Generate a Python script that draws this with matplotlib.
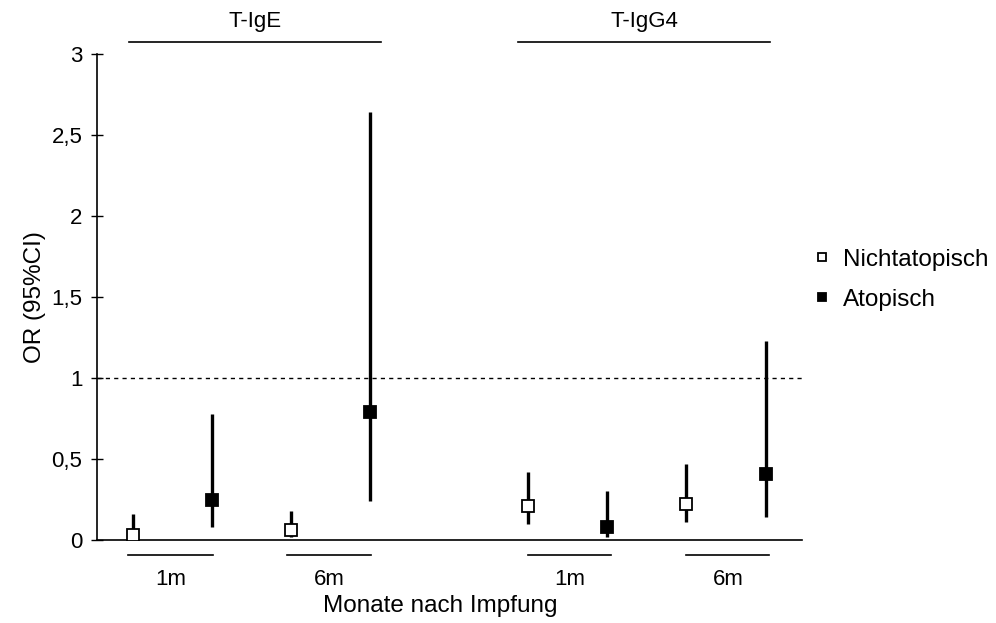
import matplotlib
matplotlib.use("Agg")
import matplotlib.pyplot as plt

plt.rcParams['font.family'] = ['Liberation Sans', 'DejaVu Sans']

# positions of the points (gap between T-IgE and T-IgG4)
x_nicht = [1, 3, 6, 8]
x_atop = [2, 4, 7, 9]

# odds ratios and 95% CI
or_nicht = [0.03, 0.06, 0.21, 0.22]
lo_nicht = [0.00, 0.02, 0.10, 0.11]
hi_nicht = [0.16, 0.18, 0.42, 0.47]

or_atop = [0.25, 0.79, 0.08, 0.41]
lo_atop = [0.08, 0.24, 0.02, 0.14]
hi_atop = [0.78, 2.64, 0.30, 1.23]

yticks = [0, 0.5, 1, 1.5, 2, 2.5, 3]
yticklabels = ["0", "0,5", "1", "1,5", "2", "2,5", "3"]

month_labels = ["1m", "6m", "1m", "6m"]
month_spans = [(0.94, 2.01), (2.95, 4.01), (6.0, 7.05), (8.0, 9.05)]
group_labels = ["T-IgE", "T-IgG4"]
group_spans = [(0.95, 4.14), (5.87, 9.06)]

fig = plt.figure(figsize=(9.96, 6.23), dpi=100)
ax = fig.add_axes([0.0974, 0.1332, 0.7077, 0.7801])

# reference line at OR = 1
ax.axhline(1, color="black", lw=1, ls=(0, (3, 3)), zorder=1)

for xs, ors, lo, hi, face, lab in [
        (x_nicht, or_nicht, lo_nicht, hi_nicht, "white", "Nichtatopisch"),
        (x_atop, or_atop, lo_atop, hi_atop, "black", "Atopisch")]:
    ax.vlines(xs, lo, hi, color="black", lw=2.4, zorder=2)
    ax.plot(xs, ors, ls="none", marker="s", ms=8.2, mfc=face, mec="black",
            mew=1.3, zorder=3, label=lab)

ax.set_xlim(0.544, 9.46)
ax.set_ylim(0, 3)
ax.set_yticks(yticks)
ax.set_yticklabels(yticklabels, fontsize=16)
ax.set_xticks([])
ax.tick_params(axis="y", direction="inout", length=9, width=1, pad=6)
ax.spines["top"].set_visible(False)
ax.spines["right"].set_visible(False)
ax.spines["left"].set_linewidth(1.2)
ax.spines["bottom"].set_linewidth(1.2)
ax.set_ylabel("OR (95%CI)", fontsize=17.5, labelpad=4)

tr = ax.get_xaxis_transform()
for (a, b), t in zip(month_spans, month_labels):
    ax.plot([a, b], [-0.031, -0.031], color="black", lw=1.2, transform=tr, clip_on=False)
    ax.text((a + b) / 2, -0.082, t, transform=tr, ha="center", va="center", fontsize=16)
for (a, b), t in zip(group_spans, group_labels):
    ax.plot([a, b], [1.0253, 1.0253], color="black", lw=1.2, transform=tr, clip_on=False)
    ax.text((a + b) / 2, 1.066, t, transform=tr, ha="center", va="center", fontsize=16)

fig.text(0.442, 0.027, "Monate nach Impfung", ha="center", va="center", fontsize=17.5)

h, l = ax.get_legend_handles_labels()
fig.legend(h, l, loc="center left", bbox_to_anchor=(0.794, 0.551), frameon=False,
           fontsize=17.5, markerscale=0.7, handlelength=0.8, handletextpad=0.45,
           labelspacing=0.75)

fig.savefig("out.png", dpi=100)
